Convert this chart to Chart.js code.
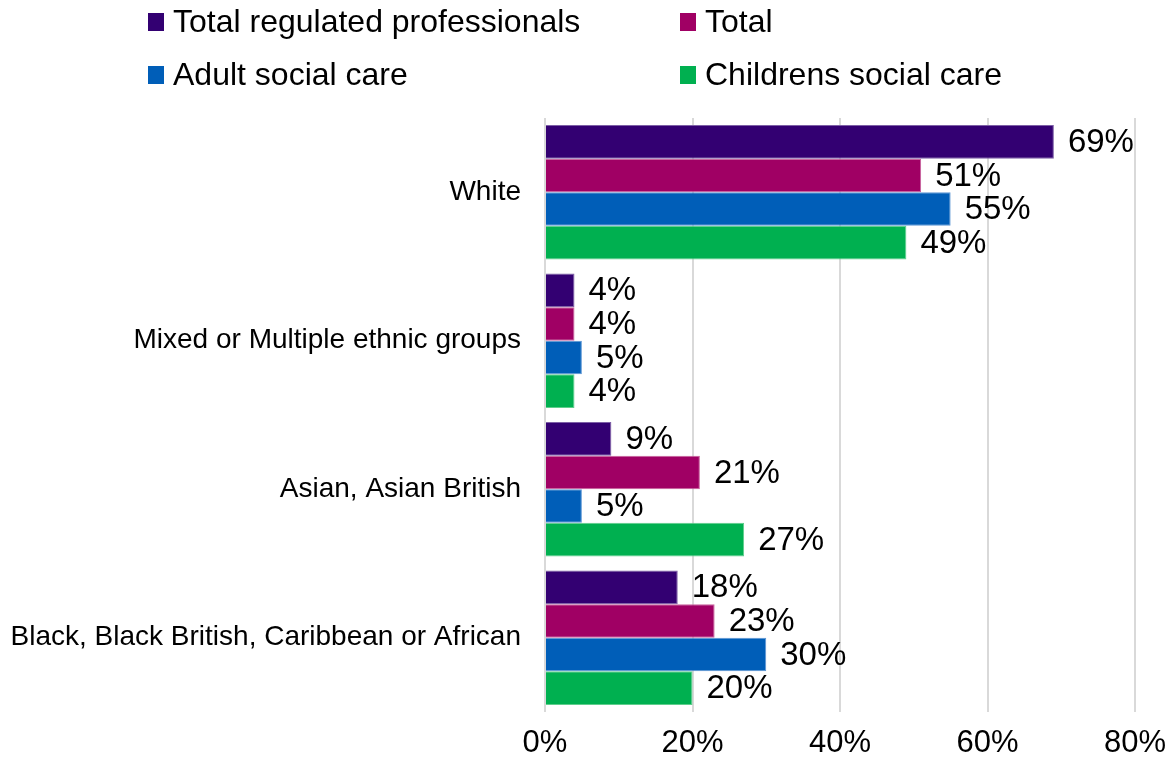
<!DOCTYPE html>
<html>
<head>
<meta charset="utf-8">
<script src="https://cdn.jsdelivr.net/npm/chart.js@4"></script>
<style>
  body { margin: 0; background: #fff; font-family: "Liberation Sans", Arial, sans-serif; }
  .wrap { position: relative; width: 1175px; height: 762px; }
  #legend { position: absolute; left: 0; top: 0; width: 1175px; height: 100px; }
  .item { position: absolute; display: flex; align-items: center; font-size: 32px; color: #000; white-space: nowrap; }
  .item .box { width: 16px; height: 18px; margin-right: 9px; }
</style>
</head>
<body>
<div class="wrap">
  <canvas id="barChart" width="1175" height="762"></canvas>
  <div id="legend"></div>
</div>
<script>
// ethnic groups and the share of each workforce
const categories = ['White', 'Mixed or Multiple ethnic groups', 'Asian, Asian British', 'Black, Black British, Caribbean or African'];
const seriesNames = ['Total regulated professionals', 'Total', 'Adult social care', 'Childrens social care'];
const regulatedProfessionals = [69, 4, 9, 18];
const totalWorkforce = [51, 4, 21, 23];
const adultSocialCare = [55, 5, 5, 30];
const childrensSocialCare = [49, 4, 27, 20];
const xTicks = [0, 20, 40, 60, 80];

const colors = ['#330072', '#a00064', '#005eb8', '#00b050'];
const borders = ['#7d5fa6', '#c9609c', '#5b95d4', '#5fce8c'];
const seriesValues = [regulatedProfessionals, totalWorkforce, adultSocialCare, childrensSocialCare];

// legend laid out in two columns above the plot
const legendPos = [[148, 22], [680, 22], [148, 75], [680, 75]];
const legendEl = document.getElementById('legend');
seriesNames.forEach((name, i) => {
  const item = document.createElement('div');
  item.className = 'item';
  item.style.left = legendPos[i][0] + 'px';
  item.style.top = (legendPos[i][1] - 19) + 'px';
  item.innerHTML = '<span class="box" style="background:' + colors[i] + '"></span><span>' + name + '</span>';
  legendEl.appendChild(item);
});

// value labels at the end of each bar
const barLabels = {
  id: 'barLabels',
  afterDatasetsDraw(chart) {
    const ctx = chart.ctx;
    ctx.save();
    ctx.font = '33px "Liberation Sans", Arial, sans-serif';
    ctx.fillStyle = '#000';
    ctx.textAlign = 'left';
    ctx.textBaseline = 'middle';
    chart.data.datasets.forEach((ds, i) => {
      chart.getDatasetMeta(i).data.forEach((bar, j) => {
        ctx.fillText(ds.data[j] + '%', bar.x + 14, bar.y + 1);
      });
    });
    ctx.restore();
  }
};

const ctx = document.getElementById('barChart').getContext('2d');
new Chart(ctx, {
  type: 'bar',
  data: {
    labels: categories,
    datasets: seriesValues.map((vals, i) => ({
      label: seriesNames[i],
      data: vals,
      backgroundColor: colors[i],
      borderColor: borders[i],
      borderWidth: 1,
      borderSkipped: 'left',
      categoryPercentage: 0.905,
      barPercentage: 1
    }))
  },
  options: {
    indexAxis: 'y',
    responsive: false,
    animation: false,
    layout: { padding: { top: 118, right: 40, bottom: 0, left: 0 } },
    plugins: {
      legend: { display: false },
      tooltip: { enabled: false }
    },
    scales: {
      x: {
        min: 0,
        max: 80,
        afterBuildTicks(scale) {
          scale.ticks = xTicks.map(v => ({ value: v }));
        },
        afterFit(scale) {
          scale.height = 50;
          scale.paddingLeft = 0;
          scale.paddingRight = 0;
        },
        ticks: {
          padding: 13,
          color: '#000',
          font: { family: '"Liberation Sans", Arial, sans-serif', size: 31 },
          callback: v => v + '%'
        },
        grid: { color: '#d9d9d9', lineWidth: 2, drawTicks: false },
        border: { display: false }
      },
      y: {
        afterFit(scale) { scale.width = 545; },
        ticks: {
          padding: 24,
          color: '#000',
          font: { family: '"Liberation Sans", Arial, sans-serif', size: 28 }
        },
        grid: { display: false, drawTicks: false },
        border: { display: false }
      }
    }
  },
  plugins: [barLabels]
});
</script>
</body>
</html>
